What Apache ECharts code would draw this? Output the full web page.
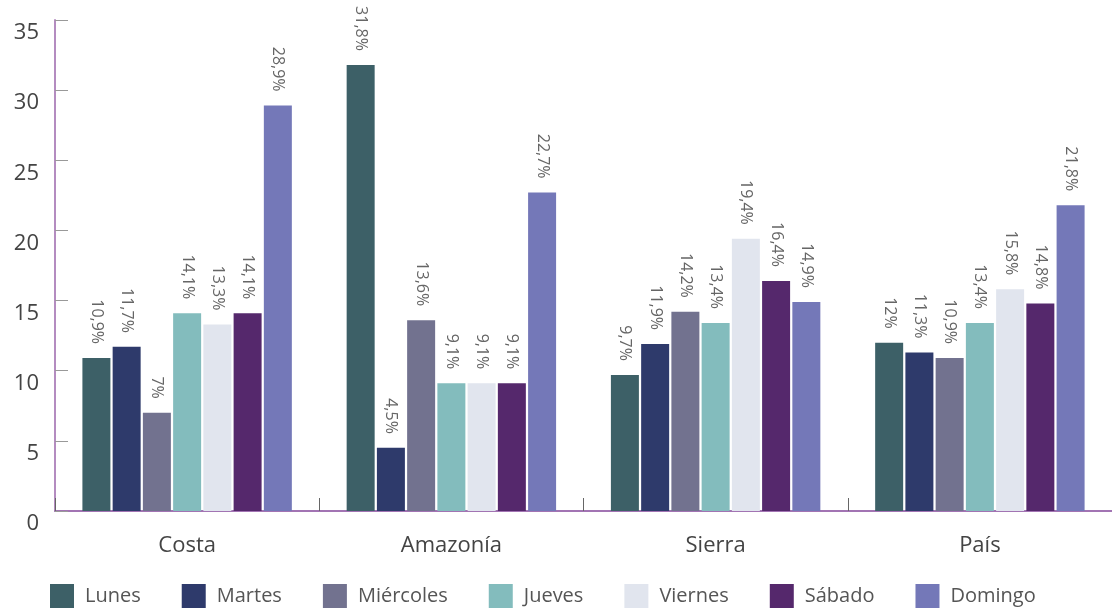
<!DOCTYPE html>
<html>
<head>
<meta charset="utf-8">
<script src="https://cdn.jsdelivr.net/npm/echarts@6/dist/echarts.min.js"></script>
<style>
  html, body { margin: 0; padding: 0; background: #fff; }
  #chart { width: 1112px; height: 609px; }
</style>
</head>
<body>
<div id="chart"></div>
<script>
// regiones y días
var regiones = ['Costa', 'Amazonía', 'Sierra', 'País'];
var dias = ['Lunes', 'Martes', 'Miércoles', 'Jueves', 'Viernes', 'Sábado', 'Domingo'];
var colores = ['#3d6067', '#2e3a6b', '#72728f', '#83bcbd', '#e1e5ee', '#55286c', '#7478b8'];

// porcentaje por día, en el orden de regiones
var lunes = [10.9, 31.8, 9.7, 12];
var martes = [11.7, 4.5, 11.9, 11.3];
var miercoles = [7, 13.6, 14.2, 10.9];
var jueves = [14.1, 9.1, 13.4, 13.4];
var viernes = [13.3, 9.1, 19.4, 15.8];
var sabado = [14.1, 9.1, 16.4, 14.8];
var domingo = [28.9, 22.7, 14.9, 21.8];

var valores = [lunes, martes, miercoles, jueves, viernes, sabado, domingo];
var fuente = '"Open Sans", "DejaVu Sans", sans-serif';

var chart = echarts.init(document.getElementById('chart'));

var series = dias.map(function (d, i) {
  return {
    name: d,
    type: 'bar',
    data: valores[i],
    barWidth: 28,
    barGap: '8%',
    itemStyle: { color: colores[i] },
    label: {
      show: true,
      position: 'top',
      rotate: -90,
      align: 'right',
      verticalAlign: 'middle',
      distance: 14,
      color: '#666',
      fontSize: 16,
      fontFamily: fuente,
      formatter: function (p) {
        return String(p.value).replace('.', ',') + '%';
      }
    }
  };
});

chart.setOption({
  animation: false,
  textStyle: { fontFamily: fuente },
  grid: { left: 55, right: 0, top: 20, bottom: 98 },
  legend: {
    data: dias,
    top: 579,
    left: 45,
    itemWidth: 24,
    itemHeight: 24,
    itemGap: 41,
    icon: 'rect',
    textStyle: { color: '#555', fontSize: 20, fontFamily: fuente, padding: [0, 0, 0, 6] }
  },
  xAxis: {
    type: 'category',
    data: regiones,
    axisLine: { lineStyle: { color: '#a274b3', width: 2 } },
    axisTick: { show: true, inside: true, length: 13, lineStyle: { color: '#666' } },
    axisLabel: { color: '#444', fontSize: 22, margin: 24, fontFamily: fuente }
  },
  yAxis: {
    type: 'value',
    min: 0,
    max: 35,
    interval: 5,
    splitLine: { show: false },
    axisLine: { show: true, lineStyle: { color: '#b48cc0', width: 2 } },
    axisTick: { show: true, inside: true, length: 13, lineStyle: { color: '#999' } },
    axisLabel: { color: '#444', fontSize: 22, margin: 16, verticalAlign: 'top', padding: [2, 0, 0, 0], fontFamily: fuente }
  },
  series: series
});
</script>
</body>
</html>
